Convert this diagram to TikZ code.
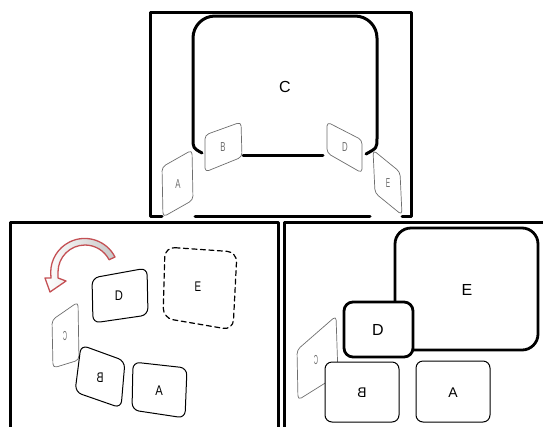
\documentclass[tikz,border=0pt]{standalone}
\usepackage{fontspec}
\setmainfont{Liberation Sans}
\usepackage{graphicx}
\usetikzlibrary{arrows.meta}
\definecolor{arrowred}{RGB}{196,80,84}
\definecolor{arrowfill}{RGB}{200,200,200}
\definecolor{cardgray}{RGB}{110,110,110}
\newcommand{\slim}[2][0.6]{\scalebox{#1}[1]{#2}}
\newcommand{\backside}[2][0.6]{\scalebox{-#1}[1]{#2}}

\begin{document}
\begin{tikzpicture}[x=1pt, y=-1pt, line cap=round, line join=round,
  frame/.style={line width=3pt},
  bigbox/.style={line width=2.8pt, rounded corners=16pt},
  tilecard/.style={draw=cardgray, line width=0.7pt, rounded corners=4pt, fill=white},
  flatcard/.style={draw, line width=1pt, rounded corners=7pt, fill=white},
  ghostcard/.style={draw, line width=1.2pt, dash pattern=on 5pt off 3.5pt, rounded corners=10pt},
  biglabel/.style={font=\fontsize{16}{16}\selectfont},
  cardlabel/.style={font=\fontsize{13}{13}\selectfont, text=cardgray},
  facelabel/.style={font=\fontsize{14}{14}\selectfont}]

  \useasboundingbox (0,0) rectangle (543,426);

  %========= top panel =========
  \draw[frame] (162,216) -- (150,216) -- (150,12) -- (411,12) -- (411,216) -- (402,216);
  \draw[frame] (195,216) -- (370,216);
  % big box C, open at the bottom
  \draw[frame] (202,153) .. controls (193,148) .. (193,138) -- (193,38)
      arc[start angle=180, end angle=270, radius=22] -- (355,16)
      arc[start angle=270, end angle=360, radius=22] -- (377,138)
      .. controls (377,148) .. (366,154);
  \draw[frame] (243,155) -- (323,155);
  \node[biglabel] (topC) at (285,87) {C};

  % tilted cards round the box
  \path[tilecard] (162,167) -- (192,150) -- (193,200) -- (163,217) -- cycle;
  \node[cardlabel] (topA) at (178,184) {\slim{A}};
  \path[tilecard] (205,135) -- (241,122) -- (242,157) -- (205,172) -- cycle;
  \node[cardlabel] (topB) at (223,147) {\slim{B}};
  \path[tilecard] (327,122) -- (362,140) -- (362,173) -- (327,153) -- cycle;
  \node[cardlabel] (topD) at (345,147) {\slim{D}};
  \path[tilecard] (373,150) -- (400,172) -- (402,215) -- (375,193) -- cycle;
  \node[cardlabel] (topE) at (388,183) {\slim[0.5]{E}};

  %========= bottom left panel =========
  \draw[frame] (10,430) -- (10,222) -- (278,222) -- (278,430);

  % turning arrow
  \path[draw=arrowred, left color=white, right color=arrowfill, line width=1.3pt]
      (115,257) arc[start angle=-27, end angle=-180, radius=34]
      -- (51,278) -- (45,278) -- (50,292) -- (66,281) -- (58,278) -- (58,272)
      arc[start angle=-180, end angle=-27, radius=27] -- cycle;

  \path[flatcard] (92,278) -- (147,268) -- (148,315) -- (93,323) -- cycle;
  \node[facelabel] (leftD) at (119,296) {\slim[0.8]{D}};
  \path[ghostcard] (165,247) -- (237,252) -- (233,330) -- (163,318) -- cycle;
  \node[facelabel] (leftE) at (198,287) {\slim[0.7]{E}};
  \path[tilecard] (52,320) -- (78,302) -- (79,360) -- (53,368) -- cycle;
  \node[cardlabel] (leftC) at (65,336) {\backside[0.45]{C}};
  \path[flatcard] (81,345) -- (125,361) -- (121,408) -- (75,392) -- cycle;
  \node[facelabel] (leftB) at (100,378) {\backside[0.75]{B}};
  \path[flatcard] (133,362) -- (187,368) -- (185,418) -- (132,410) -- cycle;
  \node[facelabel] (leftA) at (159,391) {\slim[0.8]{A}};

  %========= bottom right panel =========
  \draw[frame] (284,430) -- (284,222) -- (546,222);

  \draw[bigbox] (395,228) rectangle (538,350);
  \node[biglabel] (rightE) at (467,290) {E};
  \draw[bigbox, fill=white, rounded corners=9pt] (344,302) rectangle (413,357);
  \node[biglabel] (rightD) at (378,330) {D};

  \path[tilecard] (297,350) -- (336,316) -- (338,375) -- (298,400) -- cycle;
  \node[cardlabel] (rightC) at (316,360) {\backside[0.45]{C}};
  \path[flatcard] (325,362) rectangle (399,422);
  \node[facelabel] (rightB) at (362,393) {\backside[1]{B}};
  \path[flatcard] (416,361) rectangle (490,422);
  \node[facelabel] (rightA) at (453,393) {A};
\end{tikzpicture}
\end{document}
